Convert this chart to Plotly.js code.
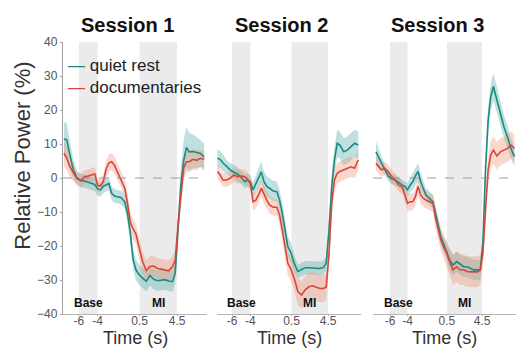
<!DOCTYPE html>
<html>
<head>
<meta charset="utf-8">
<script src="https://cdn.plot.ly/plotly-3.0.1.min.js"></script>
<style>html,body{margin:0;padding:0;background:#fff;}#chart{width:516px;height:349px;}</style>
</head>
<body>
<div id="chart"></div>
<script>
// ---- data ----
const sessions = ["Session 1", "Session 2", "Session 3"];
const seriesNames = ["quiet rest", "documentaries"];
const tickVals = [-6, -4, 0.5, 4.5];
const tickText = ["-6", "-4", "0.5", "4.5"];
const baseWindow = [-6, -4];
const miWindow = [0.5, 4.5];

const t1 = [-7.6,-7.3,-7.0,-6.6,-6.2,-5.8,-5.4,-5.0,-4.6,-4.3,-4.0,-3.7,-3.4,-3.1,-2.8,-2.5,-2.2,-1.9,-1.5,-1.1,-0.8,-0.5,-0.2,0.1,0.4,0.8,1.2,1.6,2.0,2.4,2.8,3.2,3.6,4.0,4.3,4.6,4.9,5.2,5.5,5.8,6.2,6.6,7.0,7.4];
const t2 = t1.concat([7.8]);
const t3 = t1.concat([7.8, 8.2]);

const rest1 = [11.5,11.2,7.3,2.4,0.0,-0.7,-0.9,-1.3,-1.7,-1.9,-3.2,-3.5,-2.5,-2.0,-1.6,-4.5,-5.3,-5.5,-5.7,-7.0,-10.5,-16.3,-24,-27,-28.3,-29.4,-30.4,-28.7,-29.8,-30.2,-30.0,-29.9,-30.3,-30.5,-28,-16,-2,5,9.0,7.7,7.8,7.5,7.2,6.2];
const doc1  = [7.3,5.8,3.5,1.5,-0.2,-0.9,0.4,0.6,0.9,1.2,-2.2,-2.3,-1.1,2.5,4.4,4.8,3.8,2.0,-0.1,-3.0,-7.5,-13,-15,-16.5,-20,-24.5,-27.2,-26.0,-25.9,-26.6,-26.8,-27.1,-27.3,-26.1,-24.1,-14,-4.5,3.0,4.8,4.8,5.5,5.2,5.8,5.5];
const rest1Sem = [5,5,4,3,2,2,2,2,2,2,2,2,2,2,2,2,2,2,2,2,2.5,3,3,3,3,3,3,3,3,3,3,3,3,3,3,4,5,6,6,5.5,5,4.5,4,4];
const doc1Sem  = [4,3.5,3,2.5,2,2,2,2,2,2,2,2,2,2.5,2.5,2.5,2.5,2.5,2.5,2.5,3,3,3,3,3,3,3,3,3,3,3,3,3,3,3,3,3,3,3,3,3,3,2.5,2.5];

const rest2 = [5.8,5.5,4.5,3.3,2.4,1.7,1.2,0.2,-1.1,-0.6,-1.1,-3.5,-1.6,-0.1,1.8,-1.1,-2.5,-3.0,-3.8,-4.0,-6.5,-10.4,-15.3,-20.2,-21.7,-25.1,-27.5,-26.9,-26.4,-26.4,-26.4,-26.4,-26.6,-26.3,-25.1,-15.3,-2.5,5.3,10.2,9.7,7.7,8.2,9.2,10.2,9.7];
const doc2  = [1.9,0.9,-0.6,-0.6,-0.1,0.9,0.4,0.6,0.4,-0.4,-1.6,-7.0,-6.5,-5.0,-3.0,-5.0,-6.5,-7.9,-8.6,-8.6,-10.9,-15.3,-20.2,-25.1,-26.6,-29.5,-33.4,-34.4,-32.9,-32.0,-31.7,-32.0,-32.5,-32.5,-32.0,-22.2,-7.4,-0.6,1.4,1.9,2.4,2.9,3.3,2.9,5.3];
const rest2Sem = [2.5,2.5,2.5,2,2,2,2,2,2,2,2,2,2.5,3,3,3,3,3,3,3,3,3,3,3,3,2.5,2,2,2,2,2,2,2,2,2,3,4,4,4,4,4,4,4,4,4];
const doc2Sem  = [2,2,2,2,2,2,2,2,2,2,2,2.5,2.5,2.5,2.5,2.5,2.5,2.5,2.5,2.5,3,3,3,3.5,3.5,3.5,4,4,4,4,4,4,4,4,4,4,3.5,3,3,3,3,3,3,3,3];

const rest3 = [7.7,6.1,4.3,2.5,0.6,-0.3,-0.6,-1.4,-2.1,-2.5,-3.5,-2.1,-1.1,0.6,1.9,-1.1,-3.0,-5.0,-6.0,-7.0,-10.4,-14.3,-17.3,-19.2,-21.2,-24.1,-25.6,-24.6,-25.3,-26.1,-26.1,-26.6,-27.1,-27.0,-27.1,-19.2,2.4,17,23.9,26.9,22.9,19.0,15.1,12.1,8.7,6.3];
const doc3  = [4.3,3.3,2.4,2.8,1.9,0.4,-0.6,-2.1,-2.7,-5.0,-7.4,-7.0,-7.0,-5.5,-2.5,-5.0,-6.0,-6.5,-7.0,-7.4,-11.9,-15.3,-18.2,-20.2,-21.7,-24.6,-27.0,-26.1,-27.0,-27.0,-27.5,-27.6,-27.6,-27.6,-27.0,-22.2,-9.4,2.4,6.8,8.2,6.5,7.7,8.2,8.7,9.7,8.7];
const rest3Sem = [3,2.5,2,1.5,1.5,1.5,1.5,1.5,1.5,1.5,2,2,2.5,2.5,2.5,2.5,2,2,2,2,2,2.5,2.5,2.5,2.5,3,3,3,3,3,3,3,3,3,3,3,4,4,4,4,4,3.5,3.5,3.5,3,3];
const doc3Sem  = [2,2,2,2,2,2,2,2,2,2,2.5,2.5,2.5,2.5,2.5,2.5,2.5,2.5,2.5,2.5,3,3,3,3,3.5,4,4.5,4.5,4.5,4.5,4.5,4.5,4.5,4.5,4.5,4,4,4,4,4,4,4,4,4,4,4];

// ---- styling ----
const FONT = "Arial, 'Liberation Sans', sans-serif";
const restColor = "#1b8a80";
const docColor = "#d8463b";
const restFill = "rgba(95,178,176,0.4)";
const docFill = "rgba(240,150,120,0.38)";

const panels = [
  {t: t1, rest: rest1, doc: doc1, rs: rest1Sem, ds: doc1Sem, xa: "x",  domain: [0, 144/453],        range: [-7.7, 7.7],  zero: true},
  {t: t2, rest: rest2, doc: doc2, rs: rest2Sem, ds: doc2Sem, xa: "x2", domain: [154/453, 298/453],  range: [-7.64, 8.1], zero: false},
  {t: t3, rest: rest3, doc: doc3, rs: rest3Sem, ds: doc3Sem, xa: "x3", domain: [310/453, 1],        range: [-7.94, 8.38], zero: true}
];

function band(t, v, s, xa, color) {
  const up = v.map((d, i) => d + s[i]);
  const lo = v.map((d, i) => d - s[i]);
  return {x: t.concat(t.slice().reverse()), y: up.concat(lo.slice().reverse()),
    xaxis: xa, yaxis: "y", type: "scatter", mode: "lines", fill: "toself",
    fillcolor: color, line: {width: 0}, hoverinfo: "skip", showlegend: false};
}
function line(t, v, xa, color, name) {
  return {x: t, y: v, xaxis: xa, yaxis: "y", type: "scatter", mode: "lines",
    line: {color: color, width: 1.6}, name: name, showlegend: false};
}

const traces = [];
const shapes = [];
const annotations = [];
const layout = {
  width: 516, height: 349,
  margin: {l: 63, r: 0, t: 42, b: 35},
  paper_bgcolor: "#fff", plot_bgcolor: "rgba(0,0,0,0)",
  showlegend: false,
  font: {family: FONT, color: "#555"},
  yaxis: {range: [-40, 40], tickvals: [-40,-30,-20,-10,0,10,20,30,40],
    showgrid: false, zeroline: false, showline: true, linecolor: "#a0a0a0", linewidth: 1.2,
    ticks: "outside", ticklen: 2, tickcolor: "#a0a0a0",
    tickfont: {size: 12, color: "#555", family: FONT}, fixedrange: true}
};

panels.forEach((p, k) => {
  traces.push(band(p.t, p.rest, p.rs, p.xa, restFill));
  traces.push(band(p.t, p.doc, p.ds, p.xa, docFill));
  traces.push(line(p.t, p.rest, p.xa, restColor, seriesNames[0]));
  traces.push(line(p.t, p.doc, p.xa, docColor, seriesNames[1]));
  const key = k === 0 ? "xaxis" : "xaxis" + (k + 1);
  layout[key] = {domain: p.domain, range: p.range, anchor: "y",
    tickvals: tickVals, ticktext: tickText, showgrid: false, zeroline: false,
    showline: true, linecolor: "#b5b5b5", linewidth: 1.2, ticks: "outside", ticklen: 1, tickcolor: "#b5b5b5",
    ticklabelstandoff: -6,
    tickfont: {size: 12, color: "#555", family: FONT}};
  [baseWindow, miWindow].forEach(w => shapes.push({type: "rect", xref: p.xa, yref: "y",
    x0: w[0], x1: w[1], y0: -40, y1: 40, fillcolor: "#ebebeb", line: {width: 0}, layer: "below"}));
  if (p.zero) shapes.push({type: "line", xref: p.xa, yref: "y", x0: p.range[0], x1: p.range[1], y0: 0, y1: 0,
    line: {color: "#888", width: 0.8, dash: "dash"}, layer: "above"});
  annotations.push({xref: p.xa + " domain", yref: "paper", x: 0.45, y: 1, yshift: 4, yanchor: "bottom",
    text: "<b>" + sessions[k] + "</b>", showarrow: false, font: {size: 20, color: "#111", family: FONT}});
  annotations.push({xref: p.xa + " domain", yref: "paper", x: 0.5, y: 0, yshift: -35, yanchor: "bottom", borderpad: 0,
    text: "Time (s)", showarrow: false, font: {size: 18, color: "#333", family: FONT}});
  annotations.push({xref: p.xa, yref: "y", x: (baseWindow[0] + baseWindow[1]) / 2, y: -40, yshift: 2, yanchor: "bottom",
    text: "<b>Base</b>", showarrow: false, font: {size: 12, color: "#111", family: FONT}});
  annotations.push({xref: p.xa, yref: "y", x: (miWindow[0] + miWindow[1]) / 2, y: -40, yshift: 2, yanchor: "bottom",
    text: "<b>MI</b>", showarrow: false, font: {size: 12, color: "#111", family: FONT}});
});

annotations.push({xref: "paper", yref: "paper", x: 0, xshift: -26, y: 0.58, xanchor: "right", yanchor: "middle", textangle: -90,
  text: "Relative Power (%)", showarrow: false, font: {size: 22, color: "#333", family: FONT}});
annotations.push({xref: "x domain", yref: "y", x: 0.02, y: 33, xanchor: "left", yanchor: "middle",
  text: "<span style='color:" + restColor + "'>—</span> " + seriesNames[0], showarrow: false, font: {size: 17, color: "#222", family: FONT}});
annotations.push({xref: "x domain", yref: "y", x: 0.02, y: 26.5, xanchor: "left", yanchor: "middle",
  text: "<span style='color:" + docColor + "'>—</span> " + seriesNames[1], showarrow: false, font: {size: 17, color: "#222", family: FONT}});

layout.shapes = shapes;
layout.annotations = annotations;

Plotly.newPlot("chart", traces, layout, {staticPlot: true, displayModeBar: false});
</script>
</body>
</html>
